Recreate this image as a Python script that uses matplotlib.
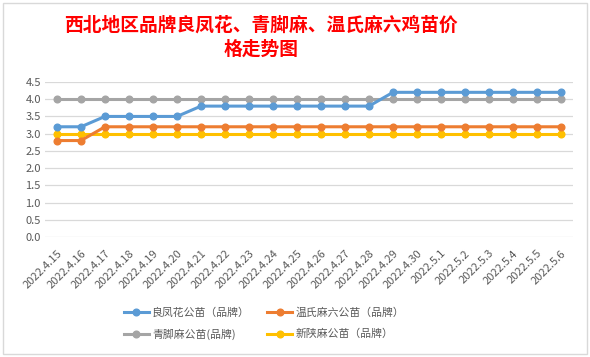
import matplotlib
matplotlib.use('Agg')
import matplotlib.pyplot as plt
from matplotlib.patches import Rectangle

plt.rcParams['font.family'] = ['Noto Sans CJK SC', 'DejaVu Sans']

# categories (dates)
dates = ['2022.4.15', '2022.4.16', '2022.4.17', '2022.4.18', '2022.4.19', '2022.4.20',
         '2022.4.21', '2022.4.22', '2022.4.23', '2022.4.24', '2022.4.25', '2022.4.26',
         '2022.4.27', '2022.4.28', '2022.4.29', '2022.4.30', '2022.5.1', '2022.5.2',
         '2022.5.3', '2022.5.4', '2022.5.5', '2022.5.6']

# series values
liangfenghua = [3.2, 3.2, 3.5, 3.5, 3.5, 3.5, 3.8, 3.8, 3.8, 3.8, 3.8, 3.8, 3.8, 3.8,
                4.2, 4.2, 4.2, 4.2, 4.2, 4.2, 4.2, 4.2]
wenshi = [2.8, 2.8, 3.2, 3.2, 3.2, 3.2, 3.2, 3.2, 3.2, 3.2, 3.2, 3.2, 3.2, 3.2,
          3.2, 3.2, 3.2, 3.2, 3.2, 3.2, 3.2, 3.2]
qingjiao = [4.0] * 22
xinshan = [3.0] * 22

series_names = ['良凤花公苗（品牌）', '温氏麻六公苗（品牌）', '青脚麻公苗(品牌)', '新陕麻公苗（品牌）']
series_vals = [liangfenghua, wenshi, qingjiao, xinshan]
colors = ['#5B9BD5', '#ED7D31', '#A5A5A5', '#FFC000']

yticks = [0.0, 0.5, 1.0, 1.5, 2.0, 2.5, 3.0, 3.5, 4.0, 4.5]

fig = plt.figure(figsize=(5.9, 3.57), dpi=100)
fig.patch.set_facecolor('white')

# chart border
fig.patches.append(Rectangle((3 / 590, 3 / 357), 584 / 590, 351 / 357,
                             transform=fig.transFigure, fill=False,
                             edgecolor='#d9d9d9', linewidth=1))

ax = fig.add_axes([45 / 590, 1 - 237 / 357, 528 / 590, 155 / 357])
x = list(range(len(dates)))

# draw in z-order: gray below, others above
order = [2, 3, 1, 0]
handles = {}
for i in order:
    h, = ax.plot(x, series_vals[i], color=colors[i], linewidth=2.2,
                 marker='o', markersize=4.8, label=series_names[i], zorder=3)
    handles[i] = h

ax.set_xlim(-0.5, len(dates) - 0.5)
ax.set_ylim(0, 4.5)
ax.set_yticks(yticks)
ax.set_yticklabels(['%.1f' % v for v in yticks], color='#595959', fontsize=8)
ax.set_xticks(x)
ax.set_xticklabels(dates, rotation=45, ha='right', rotation_mode='anchor',
                   color='#595959', fontsize=8)
ax.tick_params(axis='x', length=0, pad=8)
ax.tick_params(axis='y', length=0, pad=3)
ax.grid(axis='y', color='#d9d9d9', linewidth=0.9)
for s in ax.spines.values():
    s.set_visible(False)

fig.text(261 / 590, 1 - 25 / 357, '西北地区品牌良凤花、青脚麻、温氏麻六鸡苗价',
         color='#FF0000', fontsize=13.5, fontweight='bold', ha='center', va='center')
fig.text(261 / 590, 1 - 49 / 357, '格走势图',
         color='#FF0000', fontsize=13.5, fontweight='bold', ha='center', va='center')

# legend filled column by column -> rows: 良凤花/温氏, 青脚麻/新陕
leg_order = [0, 2, 1, 3]
fig.legend([handles[i] for i in leg_order], [series_names[i] for i in leg_order],
           ncol=2, loc='center', bbox_to_anchor=(264 / 590, 1 - 324 / 357),
           frameon=False, fontsize=7.8, labelcolor='#595959',
           handlelength=2.3, columnspacing=1.6, handletextpad=0.3, labelspacing=1.0)

fig.savefig('out.png', dpi=100)
